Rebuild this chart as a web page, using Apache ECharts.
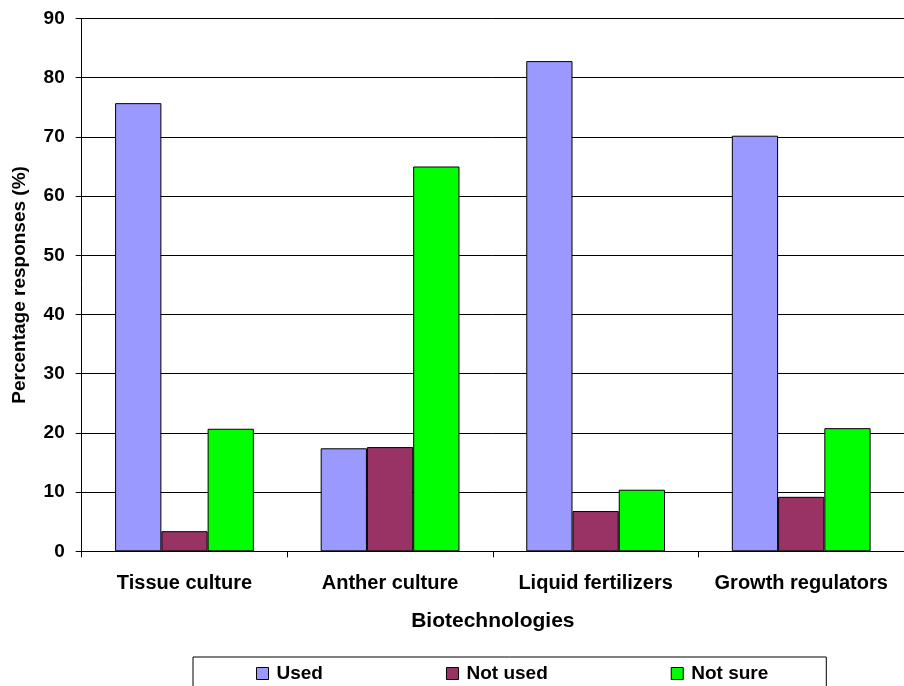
<!DOCTYPE html>
<html>
<head>
<meta charset="utf-8">
<script src="https://cdn.jsdelivr.net/npm/echarts@6/dist/echarts.min.js"></script>
<style>
html,body{margin:0;padding:0;background:#fff;}
#chart{width:904px;height:686px;}
</style>
</head>
<body>
<div id="chart"></div>
<script>
const categories = ['Tissue culture', 'Anther culture', 'Liquid fertilizers', 'Growth regulators'];
const seriesNames = ['Used', 'Not used', 'Not sure'];
const usedValues = [75.7, 17.4, 82.8, 70.2];
const notUsedValues = [3.4, 17.6, 6.8, 9.2];
const notSureValues = [20.7, 65.0, 10.4, 20.8];
const yTicks = { min: 0, max: 90, interval: 10 };
const colors = ['#9999FF', '#993366', '#00FF00'];

const FONT = '"Liberation Sans", Arial, sans-serif';
const chart = echarts.init(document.getElementById('chart'), null, { renderer: 'canvas' });

const allValues = [usedValues, notUsedValues, notSureValues];
const option = {
  animation: false,
  backgroundColor: '#ffffff',
  textStyle: { fontFamily: FONT, fontWeight: 'bold', color: '#000' },
  grid: { left: 81.7, top: 18.5, right: -8, bottom: 134.7, containLabel: false },
  legend: {
    left: 193, top: 657,
    padding: [7, 58, 20, 63],
    borderColor: '#000', borderWidth: 1,
    itemWidth: 12, itemHeight: 12, itemGap: 123,
    icon: 'rect',
    textStyle: { fontFamily: FONT, fontWeight: 'bold', fontSize: 19, color: '#000', padding: [0, 0, 0, 3] },
    data: seriesNames.map((n, i) => ({ name: n, itemStyle: { color: colors[i], borderColor: '#000', borderWidth: 1 } }))
  },
  xAxis: {
    type: 'category',
    data: categories,
    name: 'Biotechnologies',
    nameLocation: 'middle',
    nameGap: 59,
    nameTextStyle: { fontFamily: FONT, fontWeight: 'bold', fontSize: 21, color: '#000' },
    axisLine: { lineStyle: { color: '#000', width: 1 } },
    axisTick: { show: true, length: 6, interval: 0, alignWithLabel: false, lineStyle: { color: '#000' } },
    axisLabel: { interval: 0, margin: 22, fontFamily: FONT, fontWeight: 'bold', fontSize: 20, color: '#000' },
    splitLine: { show: false }
  },
  yAxis: {
    type: 'value',
    min: yTicks.min, max: yTicks.max, interval: yTicks.interval,
    name: 'Percentage responses (%)',
    nameLocation: 'middle',
    nameGap: 52,
    nameTextStyle: { fontFamily: FONT, fontWeight: 'bold', fontSize: 19, color: '#000' },
    axisLine: { show: true, lineStyle: { color: '#000', width: 1 } },
    axisTick: { show: true, length: 6, lineStyle: { color: '#000' } },
    axisLabel: { margin: 17, fontFamily: FONT, fontWeight: 'bold', fontSize: 19, color: '#000' },
    splitLine: { show: true, lineStyle: { color: '#000', width: 1 } }
  },
  series: seriesNames.map((n, i) => ({
    name: n,
    type: 'bar',
    data: allValues[i],
    barGap: '0%',
    barCategoryGap: '32.5%',
    itemStyle: { color: colors[i], borderColor: '#000', borderWidth: 1 }
  }))
};
chart.setOption(option);
</script>
</body>
</html>
